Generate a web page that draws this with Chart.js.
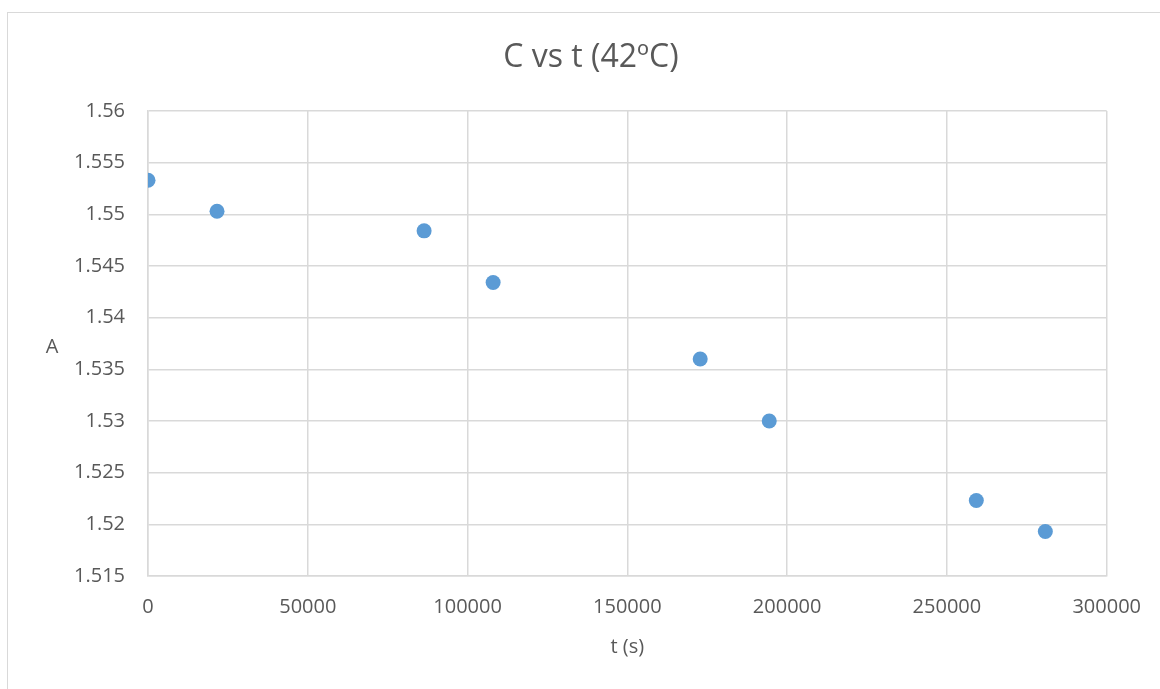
<!DOCTYPE html>
<html>
<head>
<meta charset="utf-8">
<title>C vs t (42ºC)</title>
<script src="https://cdn.jsdelivr.net/npm/chart.js@4.4.1/dist/chart.umd.min.js"></script>
<style>
  html, body { margin: 0; padding: 0; background: #fff; overflow: hidden; }
  #frame { position: absolute; left: 7px; top: 12px; width: 1200px; height: 720px; border: 1px solid #d9d9d9; }
  #wrap { position: absolute; left: 0; top: 0; width: 1160px; height: 689px; }
</style>
</head>
<body>
<div id="frame"></div>
<div id="wrap"><canvas id="scatterChart"></canvas></div>
<script>
// Data
const chartTitle = 'C vs t (42ºC)';
const xAxisLabel = 't (s)';
const yAxisLabel = 'A';
const timeValues = [0, 21600, 86400, 108000, 172800, 194400, 259200, 280800]; // seconds
const absorbanceValues = [1.5533, 1.5503, 1.5484, 1.5434, 1.5360, 1.5300, 1.5223, 1.5193];

const xMin = 0, xMax = 300000, xStep = 50000;
const yMin = 1.515, yMax = 1.56, yStep = 0.005;

const textColor = '#595959';
const gridColor = '#d9d9d9';
const pointColor = '#5b9bd5';
const fontFamily = '"Open Sans", "Liberation Sans", sans-serif';

// Draws the chart title and the horizontal "A" label (Excel style)
const extraText = {
  id: 'extraText',
  afterDraw(chart) {
    const ctx = chart.ctx;
    const area = chart.chartArea;
    ctx.save();
    ctx.fillStyle = textColor;
    ctx.textAlign = 'center';
    ctx.textBaseline = 'middle';
    ctx.font = '32px ' + fontFamily;
    ctx.fillText(chartTitle, 591, 58);
    ctx.font = '20px ' + fontFamily;
    ctx.fillText(yAxisLabel, 52, (area.top + area.bottom) / 2 + 4);
    ctx.restore();
  }
};

const points = timeValues.map((t, i) => ({ x: t, y: absorbanceValues[i] }));

new Chart(document.getElementById('scatterChart'), {
  type: 'scatter',
  data: {
    datasets: [{
      label: 'A',
      data: points,
      backgroundColor: pointColor,
      borderColor: pointColor,
      borderWidth: 0,
      pointRadius: 7.5,
      pointHoverRadius: 7.5
    }]
  },
  options: {
    responsive: true,
    maintainAspectRatio: false,
    animation: false,
    layout: { padding: { left: 20, top: 111, right: 52, bottom: 0 } },
    plugins: {
      legend: { display: false },
      title: { display: false },
      tooltip: { enabled: false }
    },
    scales: {
      x: {
        type: 'linear',
        min: xMin,
        max: xMax,
        ticks: {
          stepSize: xStep,
          color: textColor,
          font: { family: fontFamily, size: 20 },
          padding: 19,
          maxRotation: 0,
          callback: v => String(v)
        },
        grid: { color: gridColor, lineWidth: 1.5, drawTicks: false },
        border: { color: gridColor, width: 1.5 },
        title: {
          display: true,
          text: xAxisLabel,
          color: textColor,
          font: { family: fontFamily, size: 20 },
          padding: { top: 0, bottom: 30 }
        },
        afterFit: scale => { scale.height = 113; }
      },
      y: {
        type: 'linear',
        min: yMin,
        max: yMax,
        ticks: {
          stepSize: yStep,
          color: textColor,
          font: { family: fontFamily, size: 20 },
          padding: 23,
          callback: v => String(Number(v.toFixed(4)))
        },
        grid: { color: gridColor, lineWidth: 1.5, drawTicks: false },
        border: { color: gridColor, width: 1.5 },
        afterFit: scale => { scale.width = 128; }
      }
    }
  },
  plugins: [extraText]
});
</script>
</body>
</html>
